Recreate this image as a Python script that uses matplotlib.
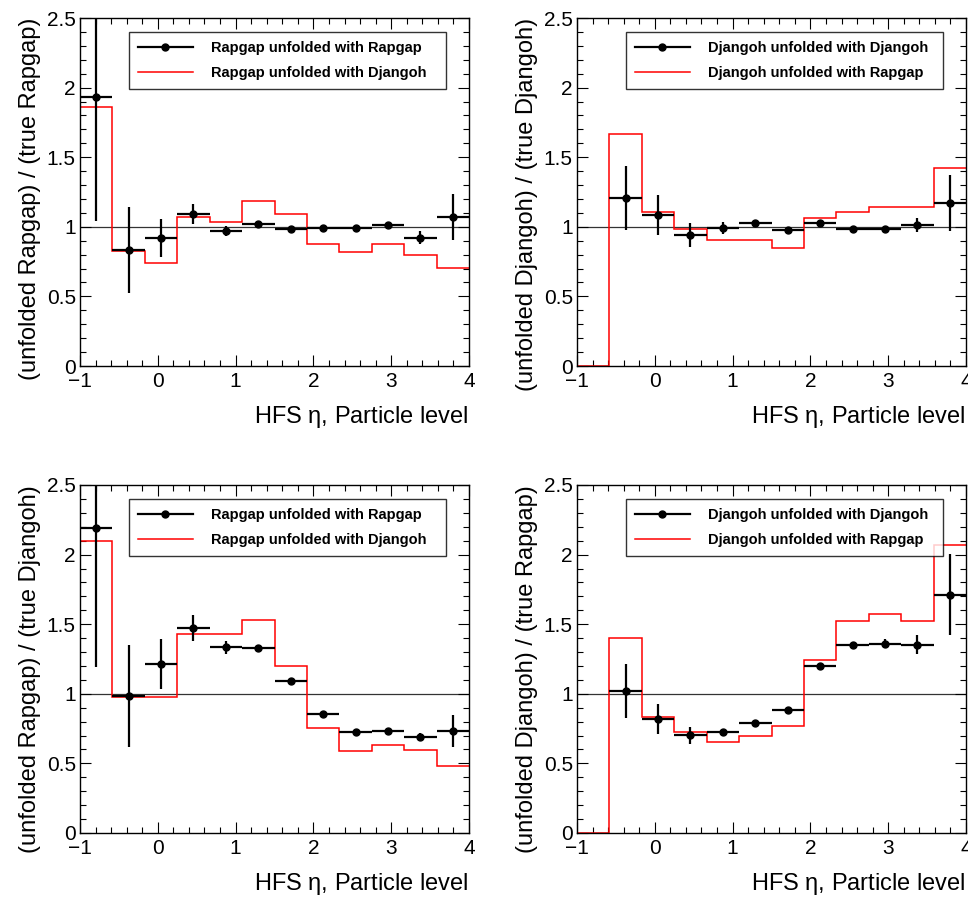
import matplotlib
matplotlib.use("Agg")
import matplotlib.pyplot as plt
import numpy as np
from matplotlib.ticker import MultipleLocator
from matplotlib.lines import Line2D

plt.rcParams['font.family'] = ['Liberation Sans', 'DejaVu Sans']

# 12 bins of HFS eta between -1 and 4
edges = np.linspace(-1, 4, 13)

# top left: Rapgap / true Rapgap
tl_black = [1.935, 0.832, 0.918, 1.091, 0.969, 1.022, 0.986, 0.993, 0.993, 1.012, 0.923, 1.072]
tl_black_err = [0.89, 0.31, 0.135, 0.07, 0.035, 0.015, 0.01, 0.01, 0.01, 0.015, 0.047, 0.165]
tl_red = [1.859, 0.827, 0.739, 1.067, 1.038, 1.182, 1.089, 0.878, 0.818, 0.878, 0.801, 0.707]

# top right: Djangoh / true Djangoh (no point in first bin)
tr_black = [np.nan, 1.206, 1.082, 0.942, 0.993, 1.024, 0.976, 1.029, 0.983, 0.983, 1.010, 1.170]
tr_black_err = [0, 0.23, 0.143, 0.086, 0.045, 0.02, 0.01, 0.015, 0.01, 0.015, 0.05, 0.2]
tr_red = [0.0, 1.664, 1.103, 0.981, 0.902, 0.906, 0.849, 1.065, 1.108, 1.139, 1.139, 1.42]

# bottom left: Rapgap / true Djangoh
bl_black = [2.192, 0.986, 1.212, 1.474, 1.335, 1.330, 1.090, 0.855, 0.723, 0.735, 0.689, 0.735]
bl_black_err = [1.0, 0.366, 0.18, 0.095, 0.047, 0.02, 0.008, 0.008, 0.01, 0.01, 0.03, 0.115]
bl_red = [2.098, 0.980, 0.975, 1.433, 1.429, 1.529, 1.198, 0.751, 0.591, 0.634, 0.598, 0.483]

# bottom right: Djangoh / true Rapgap
br_black = [np.nan, 1.019, 0.822, 0.701, 0.723, 0.790, 0.884, 1.198, 1.354, 1.361, 1.352, 1.712]
br_black_err = [0, 0.195, 0.108, 0.06, 0.025, 0.01, 0.01, 0.01, 0.015, 0.03, 0.067, 0.29]
br_red = [0.0, 1.402, 0.831, 0.725, 0.651, 0.697, 0.769, 1.241, 1.525, 1.570, 1.525, 2.070]

ylabels = ["(unfolded Rapgap) / (true Rapgap)", "(unfolded Djangoh) / (true Djangoh)",
           "(unfolded Rapgap) / (true Djangoh)", "(unfolded Djangoh) / (true Rapgap)"]
legends = [("Rapgap unfolded with Rapgap", "Rapgap unfolded with Djangoh"),
           ("Djangoh unfolded with Djangoh", "Djangoh unfolded with Rapgap"),
           ("Rapgap unfolded with Rapgap", "Rapgap unfolded with Djangoh"),
           ("Djangoh unfolded with Djangoh", "Djangoh unfolded with Rapgap")]

panels = [(tl_black, tl_black_err, tl_red), (tr_black, tr_black_err, tr_red),
          (bl_black, bl_black_err, bl_red), (br_black, br_black_err, br_red)]

W, H = 968, 898
fig = plt.figure(figsize=(W / 100, H / 100), dpi=100)
boxes = [(80, 18), (577, 18), (80, 485), (577, 485)]  # left, top in pixels
aw, ah = 389, 348

centers = 0.5 * (edges[1:] + edges[:-1])
halfw = 0.5 * (edges[1:] - edges[:-1])

for i, (black, berr, red) in enumerate(panels):
    left, top = boxes[i]
    ax = fig.add_axes([left / W, 1 - (top + ah) / H, aw / W, ah / H])
    ax.axhline(1.0, color='#333333', lw=0.9, zorder=1)
    ax.stairs(red, edges, baseline=None, color='#ff0000', lw=1.1, zorder=2)
    ax.errorbar(centers, black, yerr=berr, xerr=halfw, fmt='o', color='black',
                ms=5, elinewidth=1.6, capsize=0, zorder=3)
    ax.set_xlim(-1, 4)
    ax.set_ylim(0, 2.5)
    ax.xaxis.set_major_locator(MultipleLocator(1))
    ax.xaxis.set_minor_locator(MultipleLocator(0.2))
    ax.yaxis.set_minor_locator(MultipleLocator(0.1))
    ax.set_yticks([0, 0.5, 1, 1.5, 2, 2.5])
    ax.set_yticklabels(["0", "0.5", "1", "1.5", "2", "2.5"])
    ax.tick_params(which='both', direction='in', top=True, right=True, labelsize=15, width=0.8)
    ax.tick_params(which='major', length=8)
    ax.tick_params(which='minor', length=4)
    ax.tick_params(axis='x', pad=4)
    ax.tick_params(axis='y', pad=3)
    for s in ax.spines.values():
        s.set_linewidth(1.0)
    ax.set_xlabel(r"HFS $\mathregular{\eta}$, Particle level", fontsize=17, loc='right', labelpad=10)
    ax.set_ylabel(ylabels[i], fontsize=17, loc='top', labelpad=4)

    handles = [Line2D([], [], color='black', marker='o', ms=5, lw=1.6),
               Line2D([], [], color='#ff0000', lw=1.1)]
    leg = ax.legend(handles, legends[i], loc='upper left',
                    bbox_to_anchor=(0.126, 0.799, 0.815, 0.161), mode='expand',
                    prop={'weight': 'bold', 'size': 10.5}, frameon=True, fancybox=False,
                    edgecolor='black', handlelength=3.8, handletextpad=1.2,
                    borderpad=0.6, labelspacing=0.8, borderaxespad=0)
    leg.get_frame().set_linewidth(1.0)

fig.savefig("out.png", dpi=100)
